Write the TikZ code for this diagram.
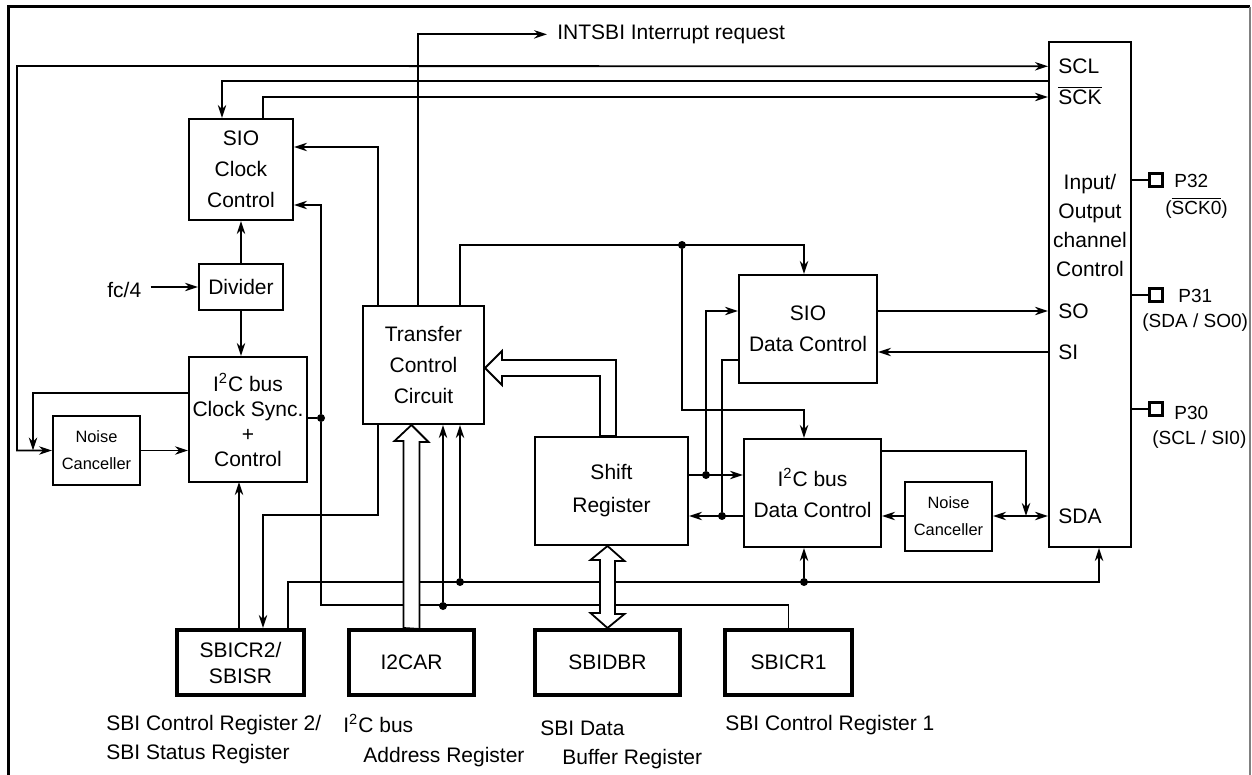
\documentclass[tikz,border=0pt]{standalone}
\usepackage{fontspec}
\setmainfont{Liberation Sans}
\usepackage{tikz}
\usetikzlibrary{arrows.meta, calc, positioning}

\newcommand{\ovl}[1]{$\overline{\mbox{#1}}$}

\begin{document}
\begin{tikzpicture}[
  x=0.5pt, y=-0.5pt,
  blk/.style={rectangle, draw, line width=1pt, align=center, inner sep=0pt, font=\fontsize{10.5}{15.5}\selectfont},
  reg/.style={blk, line width=2pt, minimum height=32.5pt, font=\fontsize{10.5}{13}\selectfont},
  noise/.style={blk, minimum width=43.5pt, minimum height=34.5pt, font=\fontsize{8.2}{13.5}\selectfont},
  lbl/.style={inner sep=0pt, align=left, font=\fontsize{10.5}{14.5}\selectfont},
  pinlbl/.style={lbl, font=\fontsize{9.5}{12}\selectfont},
  pad/.style={rectangle, draw, line width=1.6pt, minimum size=6.5pt, inner sep=0pt},
  dot/.style={circle, fill, inner sep=0pt, minimum size=4pt},
  arr/.style={-{Stealth[length=6.5pt, width=4.2pt]}, line width=0.9pt},
  dbl/.style={{Stealth[length=6.5pt, width=4.2pt]}-{Stealth[length=6.5pt, width=4.2pt]}, line width=0.9pt},
  wire/.style={line width=0.9pt},
  hollow/.style={draw, fill=white, line width=0.9pt, line join=miter}
]
  \useasboundingbox (0,0) rectangle (1252,775);
  \draw[line width=1.5pt] (8,776) -- (8,7) -- (1250,7);
  \draw[line width=0.6pt, gray] (1250,7) -- (1250,776);

  \node[blk, minimum width=52pt, minimum height=50.5pt] (sioclk) at (241,169.5) {SIO\\Clock\\Control};
  \node[blk, minimum width=42pt, minimum height=23pt] (divider) at (241,287) {Divider};
  \node[blk, minimum width=59pt, minimum height=62.5pt, font=\fontsize{10.5}{12.5}\selectfont] (i2cclk) at (248,419.5) {I\textsuperscript{2}C bus\\Clock Sync.\\+\\Control};
  \node[noise] (noise1) at (96.5,450.5) {Noise\\Canceller};
  \node[blk, minimum width=60.5pt, minimum height=59pt] (transfer) at (423.5,365) {Transfer\\Control\\Circuit};
  \node[blk, minimum width=76.5pt, minimum height=54pt, font=\fontsize{10.5}{16.5}\selectfont] (shift) at (611.5,491) {Shift\\Register};
  \node[blk, minimum width=69pt, minimum height=54pt] (siodata) at (808,329) {SIO\\Data Control};
  \node[blk, minimum width=68.5pt, minimum height=54pt] (i2cdata) at (812.5,493) {I\textsuperscript{2}C bus\\Data Control};
  \node[noise] (noise2) at (948.5,516) {Noise\\Canceller};
  \node[blk, minimum width=41pt, minimum height=252.5pt] (io) at (1090,294.5) {};

  \node[reg, minimum width=63.5pt] (sbicr2) at (240.5,662.5) {SBICR2/\\SBISR};
  \node[reg, minimum width=62.5pt] (i2car) at (411.5,662.5) {I2CAR};
  \node[reg, minimum width=72.5pt] (sbidbr) at (607.5,662.5) {SBIDBR};
  \node[reg, minimum width=63.5pt] (sbicr1) at (788.5,662.5) {SBICR1};

  \node[lbl, anchor=base west] (scl) at (1058,73.5) {SCL};
  \node[lbl, anchor=base west] (sck) at (1058,104.5) {\ovl{SCK}};
  \node[lbl, align=center] (iolbl) at (1090,225) {Input/\\Output\\channel\\Control};
  \node[lbl, anchor=base west] (so) at (1058,318.5) {SO};
  \node[lbl, anchor=base west] (si) at (1058,359.5) {SI};
  \node[lbl, anchor=base west] (sda) at (1058,523.5) {SDA};

  \node[pad] (p32) at (1156,180) {};
  \node[pad] (p31) at (1156,295) {};
  \node[pad] (p30) at (1156,409) {};
  \node[pinlbl, anchor=base west] (p32n) at (1174,187.5) {P32};
  \node[pinlbl, anchor=base west] (p32f) at (1165,214.5) {(\ovl{SCK0})};
  \node[pinlbl, anchor=base west] (p31n) at (1178,302.5) {P31};
  \node[pinlbl, anchor=base west] (p31f) at (1142,327.5) {(SDA / SO0)};
  \node[pinlbl, anchor=base west] (p30n) at (1174,419.5) {P30};
  \node[pinlbl, anchor=base west] (p30f) at (1152,444.5) {(SCL / SI0)};

  \node[lbl, anchor=base west] (fc) at (107,297.5) {fc/4};
  \node[lbl, anchor=base west] (intsbi) at (557,39.5) {INTSBI Interrupt request};

  \node[lbl, anchor=base west] (cr2lbl) at (106,759.5) {SBI Control Register 2/\\SBI Status Register};
  \node[lbl, anchor=base west] (carlbl1) at (343,732.5) {I\textsuperscript{2}C bus};
  \node[lbl, anchor=base west] (carlbl2) at (363,762.5) {Address Register};
  \node[lbl, anchor=base west] (dbrlbl1) at (540,735.5) {SBI Data};
  \node[lbl, anchor=base west] (dbrlbl2) at (562,764.5) {Buffer Register};
  \node[lbl, anchor=base west] (cr1lbl) at (725,730.5) {SBI Control Register 1};

  \node[dot] (clkdot) at (321,418) {};
  \node[dot] (topdot) at (682,245) {};
  \node[dot] (sodot) at (706,475) {};
  \node[dot] (sidot) at (722,516) {};
  \node[dot] (busdot1) at (460,582) {};
  \node[dot] (busdot2) at (804,582) {};
  \node[dot] (cr1dot) at (443,606) {};

  \draw[dbl] (noise1.west) -| (17,66) -- (io.west |- scl);
  \draw[arr] ($(i2cclk.west)+(0,-26.5)$) -| ($(noise1.west)+(-19,0)$);
  \draw[arr] (noise1.east) -- (noise1.east -| i2cclk.west);
  \draw[arr] ($(io.north west)+(0,40)$) -| ($(sioclk.north)+(-19,0)$);
  \draw[arr] ($(sioclk.north)+(22,0)$) |- ($(io.north west)+(0,56)$);
  \draw[arr] (divider.north) -- (sioclk.south);
  \draw[arr] (divider.south) -- (divider.south |- i2cclk.north);
  \draw[arr] ($(fc.east |- divider.west)+(9,0)$) -- (divider.west);
  \draw[arr] ($(transfer.north)+(-45.5,0)$) |- ($(sioclk.east)+(0,-22.5)$);
  \draw[arr] ($(transfer.north)+(-5.5,0)$) |- ($(intsbi.west)+(-10,0)$);

  \draw[wire] (i2cclk.east |- clkdot) -- (clkdot);
  \draw[arr] (clkdot) |- ($(sioclk.east)+(0,35.5)$);
  \draw[wire] (clkdot) |- ($(sbicr1.north)+(0,-23)$) -- (sbicr1.north);
  \draw[arr] (cr1dot) -- (cr1dot |- transfer.south);
  \draw[arr] ($(sbicr2.north)+(47.5,0)$) |- ($(io.south)+(9,34)$) -- ($(io.south)+(9,0)$);
  \draw[arr] (busdot1) -- (busdot1 |- transfer.south);
  \draw[arr] (busdot2) -- (busdot2 |- i2cdata.south);
  \draw[arr] ($(transfer.south)+(-45.5,0)$) |- ($(sbicr2.north)+(22.5,-113)$) -- ($(sbicr2.north)+(22.5,0)$);
  \draw[arr] ($(sbicr2.north)+(-1.5,0)$) -- ($(sbicr2.north)+(-1.5,-146)$);

  \draw[arr] ($(transfer.north)+(36.5,0)$) |- ($(siodata.north)+(-4,-29)$) -- ($(siodata.north)+(-4,0)$);
  \draw[arr] (topdot) |- ($(i2cdata.north)+(-8.5,-28)$) -- ($(i2cdata.north)+(-8.5,0)$);
  \draw[arr] ($(shift.east)+(0,-16)$) -- ($(i2cdata.west)+(0,-18)$);
  \draw[arr] (sodot) |- ($(siodata.west)+(0,-18)$);
  \draw[arr] ($(i2cdata.west)+(0,23)$) -- ($(shift.east)+(0,25)$);
  \draw[wire] (sidot) |- ($(siodata.west)+(0,31)$);
  \draw[arr] ($(siodata.east)+(0,-18)$) -- ($(io.west)+(0,16.5)$);
  \draw[arr] ($(io.west)+(0,57.5)$) -- ($(siodata.east)+(0,23)$);
  \draw[arr] ($(i2cdata.east)+(0,-42)$) -| ($(noise2.east)+(33,0)$);
  \draw[dbl] (noise2.east) -- (noise2.east -| io.west);
  \draw[arr] (noise2.west) -- (noise2.west -| i2cdata.east);

  \draw[wire] (io.east |- p32) -- (p32.west);
  \draw[wire] (io.east |- p31) -- (p31.west);
  \draw[wire] (io.east |- p30) -- (p30.west);

  \draw[hollow] (i2car.north) ++(-8,0) -- ++(0,-187) -- ++(-9,0) -- (i2car.north |- transfer.south) -- ++(17,17) -- ++(-9,0) -- ++(0,187) -- cycle;
  \draw[hollow] ($(shift.north)+(4.5,0)$) -- ++(0,-76) -- ++(-114,0) -- ++(0,-9) -- ++(-17,17) -- ++(17,17) -- ++(0,-9) -- ++(98,0) -- ++(0,60) -- cycle;
  \draw[hollow] (sbidbr.north) -- ++(-17,-15) -- ++(9.5,0) -- ++(0,-53) -- ++(-9.5,0) -- (sbidbr.north |- shift.south) -- ++(17,15) -- ++(-9.5,0) -- ++(0,53) -- ++(9.5,0) -- cycle;
\end{tikzpicture}
\end{document}
